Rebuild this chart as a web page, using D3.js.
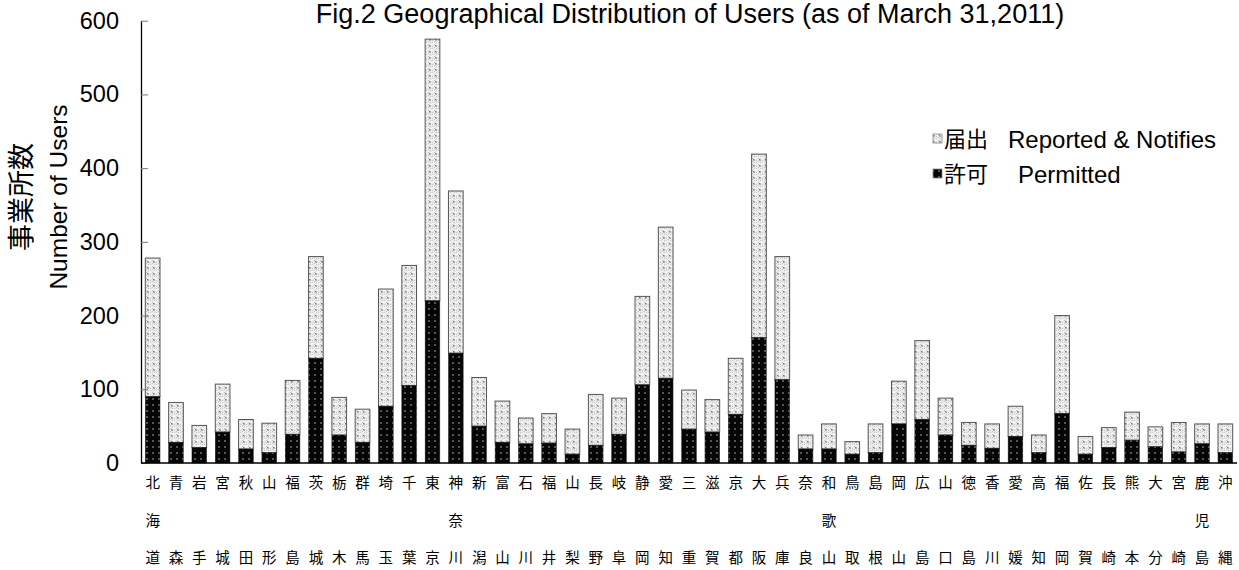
<!DOCTYPE html>
<html><head><meta charset="utf-8">
<script src="https://cdn.jsdelivr.net/npm/d3@7"></script>
<style>
body{margin:0;background:#fff;}
svg text{font-family:"Liberation Sans",Arial,"Noto Sans CJK JP",sans-serif;}
</style></head>
<body><svg id="c" width="1239" height="570"></svg>
<script>
const prefectures = ["北海道","青森","岩手","宮城","秋田","山形","福島","茨城","栃木","群馬","埼玉","千葉","東京","神奈川","新潟","富山","石川","福井","山梨","長野","岐阜","静岡","愛知","三重","滋賀","京都","大阪","兵庫","奈良","和歌山","鳥取","島根","岡山","広島","山口","徳島","香川","愛媛","高知","福岡","佐賀","長崎","熊本","大分","宮崎","鹿児島","沖縄"];
const permitted = [90,28,21,42,19,14,39,142,38,28,77,105,220,149,50,28,26,27,12,24,39,106,115,46,42,66,170,113,19,19,12,14,53,59,38,24,20,36,14,67,12,21,31,22,15,26,14];
const reported = [188,54,30,65,40,40,73,138,51,45,159,163,355,220,66,56,35,40,34,69,49,120,205,53,44,76,249,167,19,34,17,39,58,107,50,31,33,41,24,133,24,27,38,27,40,27,39];
const yTicks = [0,100,200,300,400,500,600];
const titleText = "Fig.2 Geographical Distribution of Users (as of March 31,2011)";
const legendItems = [{jp:"届出", en:"Reported & Notifies", key:"reported"},{jp:"許可", en:"Permitted", key:"permitted"}];

const svg = d3.select("#c");
const defs = svg.append("defs");
// reported pattern: light grey dotted
const pr = defs.append("pattern").attr("id","pRep").attr("patternUnits","userSpaceOnUse").attr("width",6).attr("height",6);
pr.append("rect").attr("width",6).attr("height",6).attr("fill","#ececec");
[[0,0],[2,2],[4,0],[0,4],[4,4],[2,5]].forEach(([a,b])=>pr.append("rect").attr("x",a).attr("y",b).attr("width",1).attr("height",1).attr("fill","#c4c4c4"));
pr.append("rect").attr("x",3).attr("y",3).attr("width",1.5).attr("height",1.5).attr("fill","#777");
pr.append("rect").attr("x",0).attr("y",1).attr("width",1).attr("height",1).attr("fill","#fff");
pr.append("rect").attr("x",5).attr("y",2).attr("width",1).attr("height",1).attr("fill","#fff");
// permitted pattern: black with grey dots
const pp = defs.append("pattern").attr("id","pPer").attr("patternUnits","userSpaceOnUse").attr("width",6).attr("height",6);
pp.append("rect").attr("width",6).attr("height",6).attr("fill","#060606");
pp.append("rect").attr("x",2).attr("y",2).attr("width",2).attr("height",2).attr("fill","#555");

const x = d3.scaleBand().domain(prefectures).range([141,1237]).paddingInner(0.37).paddingOuter(0.185);
const y = d3.scaleLinear().domain([0,600]).range([463,20.7]);

// bars
const g = svg.append("g");
prefectures.forEach((p,i)=>{
  const p0 = permitted[i], r = reported[i];
  g.append("rect").attr("x",x(p)).attr("width",x.bandwidth())
    .attr("y",y(p0+r)).attr("height",y(p0)-y(p0+r))
    .attr("fill","url(#pRep)").attr("stroke","#555").attr("stroke-width",1);
  g.append("rect").attr("x",x(p)).attr("width",x.bandwidth())
    .attr("y",y(p0)).attr("height",y(0)-y(p0))
    .attr("fill","url(#pPer)").attr("stroke","#222").attr("stroke-width",0.5);
});

// y axis
const yAxis = d3.axisLeft(y).tickValues(yTicks).tickSizeInner(-7).tickSizeOuter(0).tickPadding(22);
const ya = svg.append("g").attr("transform","translate(141,0)").call(yAxis);
ya.select(".domain").attr("stroke","#000").attr("stroke-width",1.3);
ya.selectAll(".tick line").attr("stroke","#777");
ya.selectAll(".tick text").attr("font-size",23.5).attr("fill","#000").attr("font-family","'Liberation Sans',Arial,sans-serif");

// x axis line
svg.append("line").attr("x1",141).attr("x2",1237).attr("y1",y(0)).attr("y2",y(0)).attr("stroke","#000").attr("stroke-width",1.5);

// x labels, stacked vertically
const rows = [483,521,558];
const xl = svg.append("g").attr("font-size",14.5).attr("font-family","'Noto Sans CJK JP',sans-serif").attr("text-anchor","middle");
prefectures.forEach(p=>{
  const cx = x(p)+x.bandwidth()/2;
  const chars = Array.from(p);
  const slots = chars.length===3 ? [0,1,2] : [0,2];
  chars.forEach((ch,k)=>{
    xl.append("text").attr("x",cx).attr("y",rows[slots[k]]).attr("dominant-baseline","central").text(ch);
  });
});

// title
svg.append("text").attr("x",690).attr("y",23).attr("text-anchor","middle")
  .attr("font-size",27).text(titleText);

// y axis title
svg.append("text").attr("transform","translate(22,197) rotate(-90)").attr("text-anchor","middle").attr("dominant-baseline","central")
  .attr("font-size",27).attr("font-family","'Noto Sans CJK JP',sans-serif").text("事業所数");
svg.append("text").attr("transform","translate(58,197) rotate(-90)").attr("text-anchor","middle").attr("dominant-baseline","central")
  .attr("font-size",24.5).text("Number of Users");

// legend
const legY = [139,174];
const legEnX = [1008,1018];
legendItems.forEach((it,i)=>{
  svg.append("rect").attr("x",933).attr("y",legY[i]-5).attr("width",9).attr("height",9)
    .attr("fill", it.key==="reported" ? "url(#pRep)" : "url(#pPer)").attr("stroke","#888").attr("stroke-width",0.8);
  svg.append("text").attr("x",944).attr("y",legY[i]).attr("dominant-baseline","central").attr("font-size",22)
    .attr("font-family","'Noto Sans CJK JP',sans-serif").text(it.jp);
  svg.append("text").attr("x",legEnX[i]).attr("y",legY[i]).attr("dominant-baseline","central").attr("font-size",24).text(it.en);
});
</script></body></html>
